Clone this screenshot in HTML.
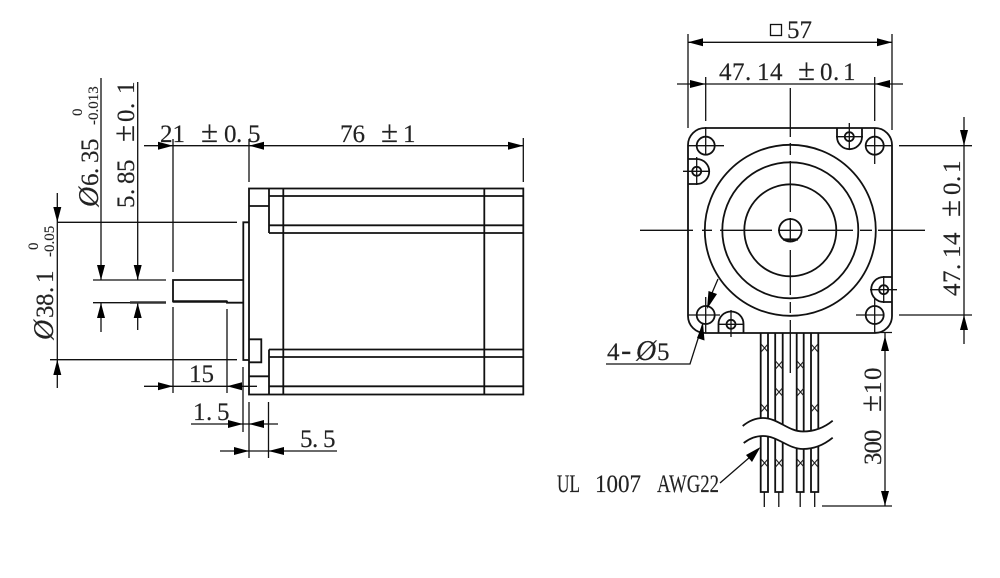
<!DOCTYPE html>
<html><head><meta charset="utf-8"><style>
html,body{margin:0;padding:0;background:#fff}
svg{display:block}
text{font-family:"Liberation Serif","DejaVu Serif",serif;fill:#222;stroke:#222;stroke-width:.15;font-size:25px}
text.s{font-size:15px}
.f{font-size:28px;font-style:italic}
.p{font-size:31px}
.g{fill:none;stroke:#111;stroke-width:1.8}
.t{fill:none;stroke:#111;stroke-width:1.3}
.a{fill:#000;stroke:none}
</style></head><body>
<svg width="1000" height="578" viewBox="0 0 1000 578" xmlns="http://www.w3.org/2000/svg">
<rect width="1000" height="578" fill="#fff"/>

<!-- LEFT VIEW body -->
<g class="g">
<rect x="249" y="188.5" width="274.3" height="206"/>
<path d="M269 188.5V233M269 349.5V394.5M283.3 188.5V394.5M484.3 188.5V394.5"/>
<path d="M269 196H523M269 225.3H523M269 233H523M269 349.5H523M269 357H523M269 386.3H523"/>
<path d="M249 206H269M249 376.3H269"/>
<path d="M249 222.3H243.3V360H249"/>
<path d="M249 339.3H261.3V362.3H249"/>
<path d="M243.3 280H173V301.5H227V302.7H243.3"/>
</g>
<path d="M173 301.5H227" stroke="#111" stroke-width="2.4" fill="none"/>
<!-- LEFT dims -->
<g class="t">
<path d="M144 145.7H523.3"/>
<path d="M173 139V272M173 307V393M227 309V393"/>
<path d="M249 139V182M523.3 138V182"/>
<path d="M144 386.3H257M191 424H278M220 451H337"/>
<path d="M243 367V432M249 402V458M268.5 402V458"/>
<path d="M93 280H166M93 302.7H166"/>
<path d="M57.3 193V388M57 222.3H237M50 359.7H237"/>
<path d="M101 78V280M101 303V332M137.7 82V280M137.7 303V330"/>
</g>
<path d="M130 302.5H166" stroke="#333" stroke-width="2.4" fill="none"/>
<g class="a">
<polygon points="173,145.7 158,141.7 158,149.7"/>
<polygon points="249,145.7 264,141.7 264,149.7"/>
<polygon points="523.3,145.7 508,141.7 508,149.7"/>
<polygon points="173,386.3 158,382.3 158,390.3"/>
<polygon points="227,386.3 242,382.3 242,390.3"/>
<polygon points="243,424 228,420 228,428"/>
<polygon points="249,424 264,420 264,428"/>
<polygon points="249,451 234,447 234,455"/>
<polygon points="268.5,451 284,447 284,455"/>
<polygon points="57.3,222.3 53.3,207 61.3,207"/>
<polygon points="57.3,359.7 53.3,375 61.3,375"/>
<polygon points="101,280 97,265 105,265"/>
<polygon points="101,303 97,318 105,318"/>
<polygon points="137.7,280 133.7,265 141.7,265"/>
<polygon points="137.7,303 133.7,318 141.7,318"/>
</g>
<text x="160" y="142">21</text>
<text y="142"><tspan class="p" x="201">±</tspan><tspan x="224">0</tspan><tspan x="236">.</tspan><tspan x="248">5</tspan></text>
<text x="340" y="142">76</text>
<text y="142"><tspan class="p" x="381">±</tspan><tspan x="403">1</tspan></text>
<text x="189" y="382">15</text>
<text y="420"><tspan x="193">1</tspan><tspan x="206">.</tspan><tspan x="217">5</tspan></text>
<text y="447"><tspan x="300">5</tspan><tspan x="312">.</tspan><tspan x="323">5</tspan></text>

<text transform="translate(53 340) rotate(-90)"><tspan class="f" x="0">Ø</tspan><tspan x="22">3</tspan><tspan x="34">8</tspan><tspan x="47">.</tspan><tspan x="57">1</tspan></text>
<text class="s" transform="translate(38 250) rotate(-90)">0</text>
<text class="s" transform="translate(54 257) rotate(-90)">-0.05</text>
<text transform="translate(98 207) rotate(-90)"><tspan class="f" x="0">Ø</tspan><tspan x="21">6</tspan><tspan x="33">.</tspan><tspan x="44">3</tspan><tspan x="56">5</tspan></text>
<text class="s" transform="translate(82 116) rotate(-90)">0</text>
<text class="s" transform="translate(98 125) rotate(-90)">-0.013</text>
<text transform="translate(134 208) rotate(-90)"><tspan x="0">5</tspan><tspan x="13">.</tspan><tspan x="24">8</tspan><tspan x="36">5</tspan><tspan class="p" x="66">±</tspan><tspan x="86">0</tspan><tspan x="99">.</tspan><tspan x="114">1</tspan></text>

<!-- RIGHT VIEW -->
<g class="g">
<path d="M705 128H875A17 17 0 0 1 892 145V316A17 17 0 0 1 875 333H705A17 17 0 0 1 688 316V145A17 17 0 0 1 705 128Z"/>
<circle cx="790.3" cy="230.3" r="85.5"/>
<circle cx="790.3" cy="230.3" r="68"/>
<circle cx="790.3" cy="230.3" r="46"/>
<circle cx="790.3" cy="230.3" r="11.3"/>
<path d="M783 239.5H798" stroke-width="2.2"/>
<circle cx="705.7" cy="145.7" r="9"/>
<circle cx="874.7" cy="145.7" r="9"/>
<circle cx="705.7" cy="315" r="9"/>
<circle cx="874.7" cy="315" r="9"/>
<circle cx="849.3" cy="136.7" r="4.5"/>
<circle cx="696.7" cy="171.3" r="4.5"/>
<circle cx="883.7" cy="289.7" r="4.5"/>
<circle cx="731" cy="324.3" r="4.5"/>
<path d="M837 128V136.7A12.5 12.5 0 0 0 862 136.7V128"/>
<path d="M688 159H696.7A12.5 12.5 0 0 1 696.7 184H688"/>
<path d="M892 277H883.7A12.5 12.5 0 0 0 883.7 302H892"/>
<path d="M718.5 333V324A12.5 12.5 0 0 1 743.5 324V333"/>
</g>
<g class="t">
<path d="M640 230.3H693M702 230.3H712M720 230.3H772M778 230.3H802M808 230.3H853M860 230.3H872M878 230.3H925"/>
<path d="M790.3 88V137M790.3 143V155M790.3 161V212M790.3 218V242M790.3 250V295M790.3 302V313M790.3 320V373"/>
<path d="M836 136.7H863M849.3 123V150M683 171.3H710M696.7 157V185M870 289.7H897M883.7 276V303M718 324.3H744M731 310V337"/>
<path d="M688 145.7H724M865 145.7H892M688 315H720M856 315H884"/>
<path d="M705.7 77V121M705.7 127V155M874.7 77V121M874.7 128V164M705.7 297V333M874.7 298V333"/>
<path d="M688 34V128M892 34V130"/>
<path d="M688 42.3H892M677 84H903"/>
<path d="M899 145.7H972M899 315H972"/>
<path d="M964 117V344"/>
<path d="M885 333V506M875 332.5H892M822 506H892"/>
<path d="M606 364H690L703 323M718 279L712 293M720 483L750 457"/>
</g>
<g class="a">
<polygon points="688,42.3 703,38.3 703,46.3"/>
<polygon points="892,42.3 877,38.3 877,46.3"/>
<polygon points="705.7,84 690,80 690,88"/>
<polygon points="874.7,84 890,80 890,88"/>
<polygon points="964,145.7 960,130 968,130"/>
<polygon points="964,315 960,330 968,330"/>
<polygon points="885,336 881,351 889,351"/>
<polygon points="885,505.7 881,491 889,491"/>
<polygon points="707,309 708.5,291 717,294"/>
<polygon points="703,323 697,338 704.5,340.5"/>
<polygon points="760.5,447 746,455 752,462"/>
</g>

<!-- wires -->
<path class="g" d="M760.7 333V492H768V333M775.2 333V492H782.7V333M796.7 333V492H803.7V333M811 333V492H818.3V333"/>
<g class="t">
<path d="M764.3 492V507M778.8 492V507M800.2 492V507M814.7 492V507"/>
</g>
<g stroke="#222" stroke-width="1.1" fill="none">
<path d="M761 344l7 8m0-8l-7 8M761 404l7 8m0-8l-7 8M761 459l7 8m0-8l-7 8"/>
<path d="M775.5 361l7 8m0-8l-7 8M775.5 388l7 8m0-8l-7 8M775.5 459l7 8m0-8l-7 8"/>
<path d="M797 361l7 8m0-8l-7 8M797 388l7 8m0-8l-7 8M797 459l7 8m0-8l-7 8"/>
<path d="M811 344l7 8m0-8l-7 8M811 404l7 8m0-8l-7 8M811 459l7 8m0-8l-7 8"/>
</g>
<path d="M742.7 426C750 420 757 418 763 418C778 418 788 431.5 803 431.5C815 431.5 825 427 832.7 420.7V437.7C825 444 815 449 803 449C788 449 778 436 763 436C757 436 750 438 743.7 443Z" fill="#fff"/>
<path class="g" d="M742.7 426C750 420 757 418 763 418C778 418 788 431.5 803 431.5C815 431.5 825 427 832.7 420.7"/>
<path class="g" d="M743.7 443C750 438 757 436 763 436C778 436 788 449 803 449C815 449 825 444 832.7 437.7"/>

<!-- right text -->
<rect x="770.5" y="24.5" width="11" height="11" class="t"/>
<text x="787" y="38">57</text>
<text y="80"><tspan x="719">4</tspan><tspan x="732">7</tspan><tspan x="745">.</tspan><tspan x="757">1</tspan><tspan x="770">4</tspan><tspan class="p" x="798">±</tspan><tspan x="820">0</tspan><tspan x="833">.</tspan><tspan x="843">1</tspan></text>
<text transform="translate(960 296) rotate(-90)"><tspan x="0">4</tspan><tspan x="13">7</tspan><tspan x="26">.</tspan><tspan x="38">1</tspan><tspan x="51">4</tspan><tspan class="p" x="79">±</tspan><tspan x="101">0</tspan><tspan x="114">.</tspan><tspan x="123">1</tspan></text>
<text transform="translate(881 465) rotate(-90)"><tspan x="0">3</tspan><tspan x="11.5">0</tspan><tspan x="23">0</tspan><tspan class="p" x="53">±</tspan><tspan x="71">1</tspan><tspan x="85">0</tspan></text>
<text y="360"><tspan x="607">4</tspan><tspan class="p" x="621">-</tspan><tspan class="f" x="636">Ø</tspan><tspan x="657">5</tspan></text>
<text x="557" y="492" textLength="23" lengthAdjust="spacingAndGlyphs">UL</text>
<text x="595" y="492" textLength="46" lengthAdjust="spacingAndGlyphs">1007</text>
<text x="657" y="492" textLength="62" lengthAdjust="spacingAndGlyphs">AWG22</text>
</svg>
</body></html>
